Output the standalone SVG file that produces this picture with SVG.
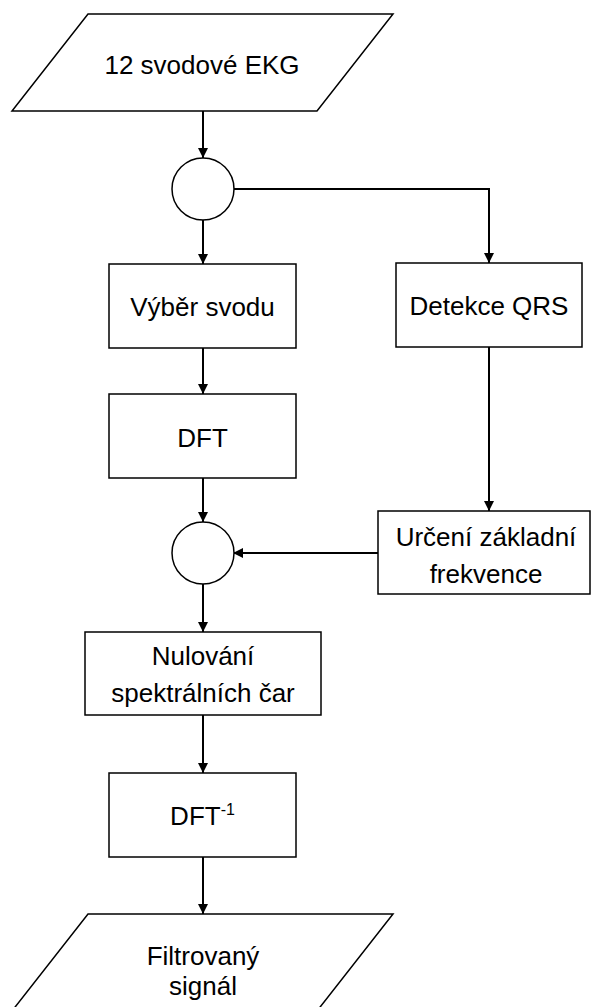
<svg xmlns="http://www.w3.org/2000/svg" width="592" height="1007" viewBox="0 0 592 1007">
<style>
.shape{fill:#fff;stroke:#000;stroke-width:1.5}
.lbl{font-family:"Liberation Sans",Arial,sans-serif;font-size:26px;fill:#000;text-anchor:middle}
.sup{font-size:16px}
.conn{fill:none;stroke:#000;stroke-width:2}
</style>
<defs>
<marker id="arr" markerUnits="userSpaceOnUse" markerWidth="10" markerHeight="10" refX="10" refY="5" orient="auto">
<path d="M0,0 L10,5 L0,10 z" fill="#000"/>
</marker>
</defs>
<rect width="592" height="1007" fill="#fff"/>
<g id="connectors">
<path class="conn" d="M203,111 V158" marker-end="url(#arr)"/>
<path class="conn" d="M203,220 V264" marker-end="url(#arr)"/>
<path class="conn" d="M233,189 H489 V263" marker-end="url(#arr)"/>
<path class="conn" d="M203,348 V394" marker-end="url(#arr)"/>
<path class="conn" d="M489,347 V511" marker-end="url(#arr)"/>
<path class="conn" d="M203,478 V522" marker-end="url(#arr)"/>
<path class="conn" d="M378,553 H233" marker-end="url(#arr)"/>
<path class="conn" d="M203,584 V632" marker-end="url(#arr)"/>
<path class="conn" d="M203,715 V773" marker-end="url(#arr)"/>
<path class="conn" d="M203,857 V914" marker-end="url(#arr)"/>
</g>
<g id="input">
<polygon class="shape" points="88,14 393,14 317,111 12,111"/>
<text class="lbl" x="202" y="74">12 svodové EKG</text>
</g>
<g id="split">
<circle class="shape" cx="203" cy="189" r="31"/>
</g>
<g id="vyber">
<rect class="shape" x="109" y="264" width="187" height="84"/>
<text class="lbl" x="202.5" y="316">Výběr svodu</text>
</g>
<g id="detekce">
<rect class="shape" x="396" y="263" width="186" height="84"/>
<text class="lbl" x="489" y="315">Detekce QRS</text>
</g>
<g id="dft">
<rect class="shape" x="109" y="394" width="187" height="84"/>
<text class="lbl" x="202.5" y="447">DFT</text>
</g>
<g id="merge">
<circle class="shape" cx="203" cy="553" r="31"/>
</g>
<g id="urceni">
<rect class="shape" x="378" y="511" width="212" height="83"/>
<text class="lbl" x="486" y="546">Určení základní</text>
<text class="lbl" x="486" y="583">frekvence</text>
</g>
<g id="nulovani">
<rect class="shape" x="85" y="632" width="236" height="83"/>
<text class="lbl" x="203" y="665">Nulování</text>
<text class="lbl" x="203" y="702">spektrálních čar</text>
</g>
<g id="idft">
<rect class="shape" x="109" y="773" width="187" height="84"/>
<text class="lbl" x="202.5" y="825">DFT<tspan class="sup" dy="-10">-1</tspan></text>
</g>
<g id="output">
<polygon class="shape" points="88,914 393,914 317,1011 12,1011"/>
<text class="lbl" x="203" y="965">Filtrovaný</text>
<text class="lbl" x="203" y="995">signál</text>
</g>
</svg>
